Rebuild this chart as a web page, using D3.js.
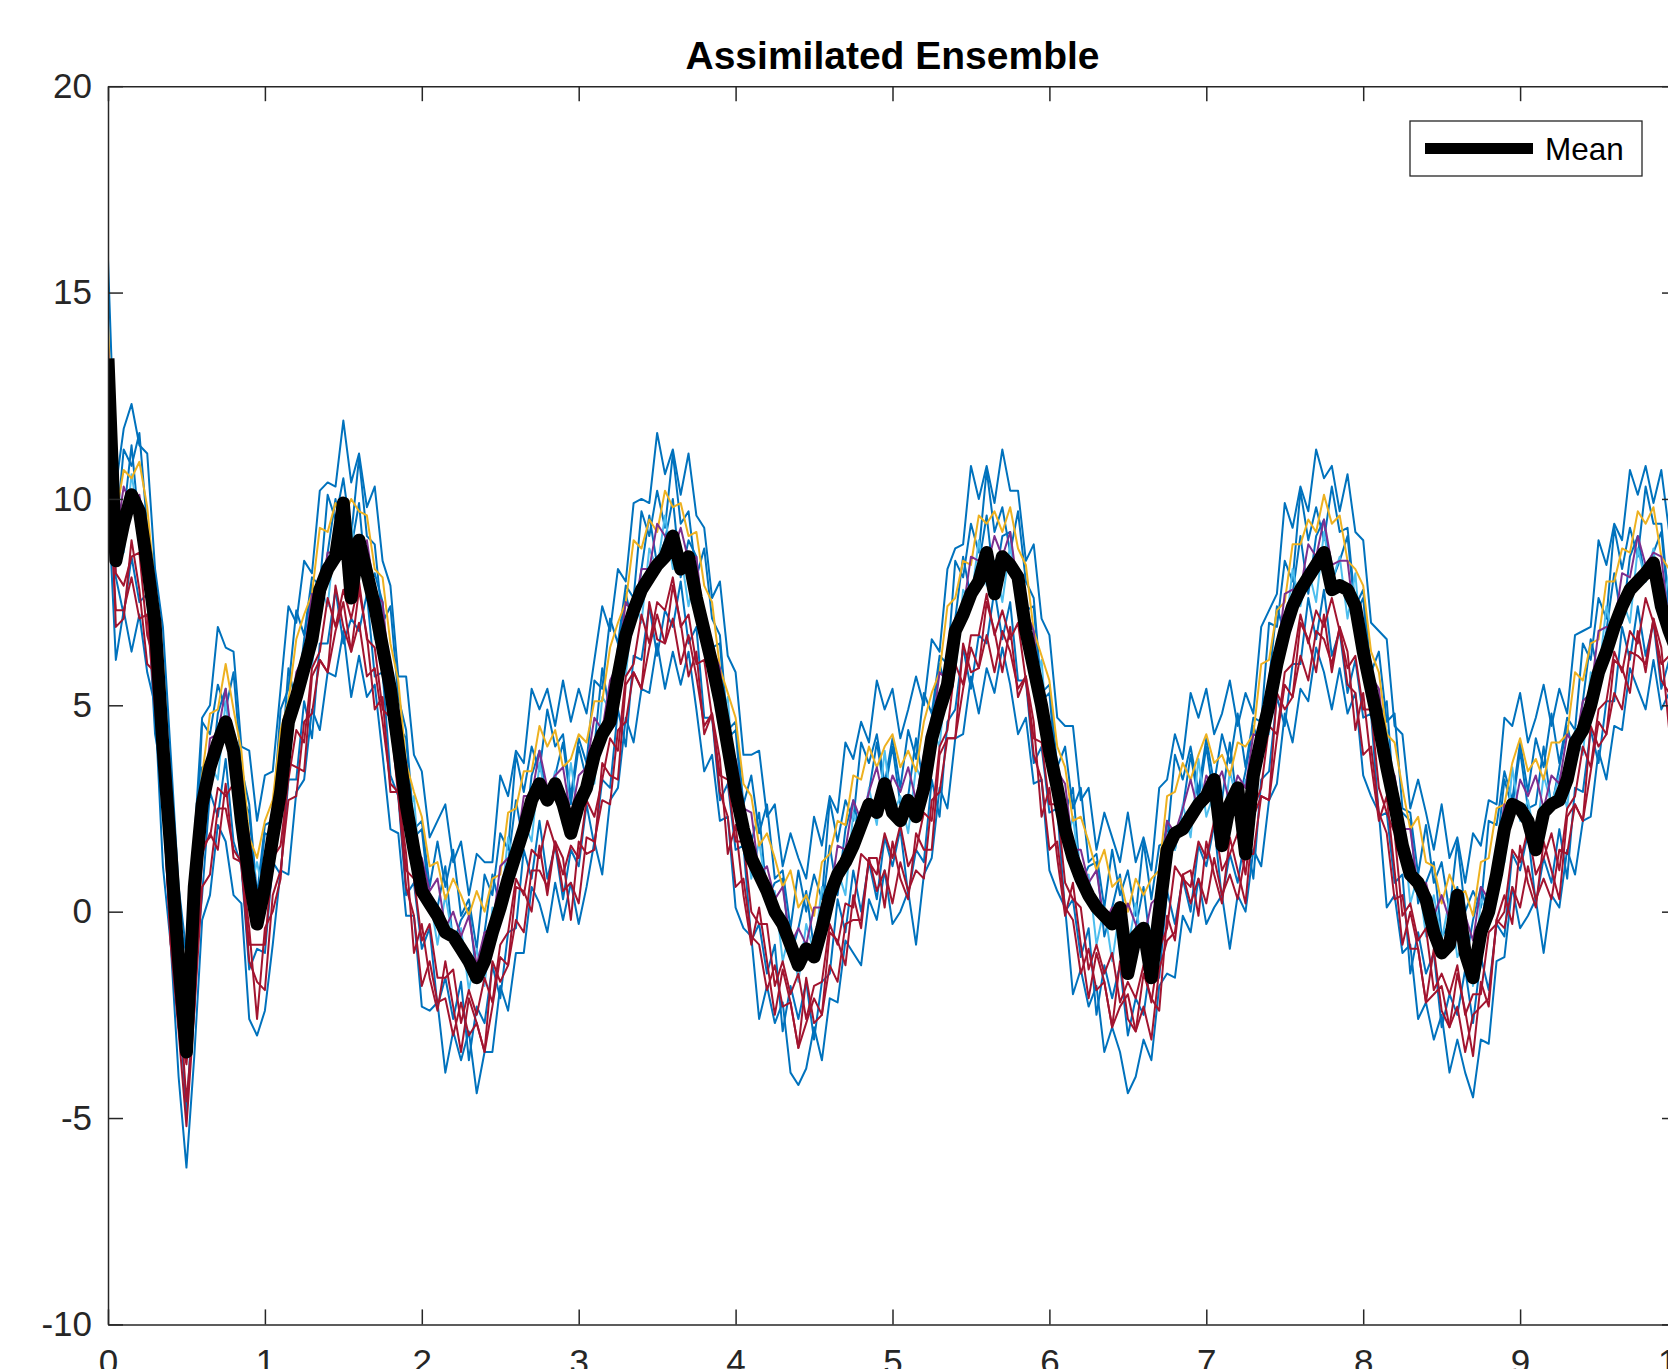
<!DOCTYPE html>
<html>
<head>
<meta charset="utf-8">
<script src="https://cdn.jsdelivr.net/npm/d3@7"></script>
<style>
  html, body { margin: 0; padding: 0; background: #fff; overflow: hidden; }
  #chart_svg { display: block; }
  text { font-family: "Liberation Sans", Arial, Helvetica, sans-serif; }
</style>
</head>
<body>
<svg id="chart_svg" width="1668" height="1369"></svg>
<script>
// samples are 0.05 time units apart, starting at t = 0
const timeStep = 0.05;

const xTickValues = [0, 1, 2, 3, 4, 5, 6, 7, 8, 9, 10];
const yTickValues = [-10, -5, 0, 5, 10, 15, 20];

// ensemble mean (thick black line)
const meanValues = [
  13.4, 8.5, 9.4, 10.1, 9.7, 8.4, 7.0, 4.0, 1.5, -1.2,
  -3.4, 0.6, 2.6, 3.5, 4.1, 4.6, 3.9, 2.2, 0.8, -0.3,
  0.6, 1.8, 2.9, 4.6, 5.2, 5.9, 6.6, 7.8, 8.3, 8.6,
  9.9, 7.6, 9.0, 8.2, 7.4, 6.4, 5.4, 4.0, 2.6, 1.5,
  0.5, 0.2, -0.1, -0.5, -0.6, -0.9, -1.2, -1.6, -1.2, -0.5,
  0.1, 0.8, 1.4, 2.0, 2.7, 3.1, 2.7, 3.1, 2.6, 1.9,
  2.6, 3.0, 3.8, 4.3, 4.6, 5.7, 6.7, 7.3, 7.8, 8.1,
  8.4, 8.6, 9.1, 8.3, 8.6, 7.6, 6.8, 6.0, 5.1, 4.0,
  2.9, 2.0, 1.3, 0.9, 0.5, 0.0, -0.3, -0.8, -1.3, -0.9,
  -1.1, -0.4, 0.4, 0.9, 1.2, 1.6, 2.1, 2.6, 2.4, 3.1,
  2.4, 2.2, 2.7, 2.3, 3.0, 4.2, 4.9, 5.5, 6.8, 7.2,
  7.7, 8.0, 8.7, 7.7, 8.6, 8.4, 8.1, 6.8, 5.9, 5.0,
  3.9, 3.0, 2.0, 1.3, 0.8, 0.4, 0.1, -0.1, -0.3, 0.1,
  -1.5, -0.6, -0.4, -1.6, 0.0, 1.5, 1.9, 2.0, 2.3, 2.6,
  2.8, 3.2, 1.6, 2.6, 3.0, 1.4, 3.3, 4.2, 5.0, 6.0,
  6.8, 7.4, 7.8, 8.1, 8.4, 8.7, 7.8, 7.9, 7.8, 7.4,
  6.3, 5.4, 4.5, 3.5, 2.6, 1.6, 0.9, 0.7, 0.3, -0.5,
  -1.0, -0.8, 0.4, -1.0, -1.6, -0.5, 0.0, 0.9, 2.0, 2.6,
  2.5, 2.2, 1.5, 2.4, 2.6, 2.7, 3.2, 4.1, 4.4, 5.0,
  5.8, 6.3, 6.9, 7.4, 7.8, 8.0, 8.2, 8.45, 7.4, 6.8,
  6.3
];

// ensemble members
const memberBlueHigh = [
  15.8, 10.3, 11.7, 12.3, 11.3, 11.1, 8.3, 6.9, 3.8, 0.6,
  -1.0, 1.7, 4.7, 5.0, 6.9, 6.4, 6.3, 4.0, 3.9, 2.2,
  3.3, 3.4, 5.4, 7.4, 7.0, 8.5, 8.2, 10.2, 10.4, 10.3,
  11.9, 10.4, 11.1, 9.8, 10.3, 8.5, 7.9, 5.7, 5.7, 3.8,
  3.4, 1.8, 2.2, 2.6, 1.2, 1.7, 0.4, 1.4, 1.2, 1.2,
  3.3, 2.8, 3.9, 3.6, 5.4, 4.9, 5.4, 4.5, 5.6, 4.6,
  5.4, 4.8, 6.1, 7.4, 6.8, 8.3, 8.0, 9.9, 10.0, 9.9,
  11.6, 10.6, 11.2, 10.1, 11.1, 9.6, 9.3, 7.6, 8.0, 6.2,
  5.8, 3.8, 3.8, 3.9, 2.3, 2.6, 1.1, 1.9, 1.3, 0.8,
  2.3, 1.6, 2.8, 2.4, 4.1, 3.7, 4.6, 4.1, 5.6, 4.9,
  5.4, 4.2, 4.9, 5.7, 5.0, 6.6, 6.3, 8.3, 8.8, 8.9,
  10.8, 10.0, 10.8, 9.9, 11.2, 10.2, 10.2, 8.5, 8.9, 7.1,
  6.7, 4.7, 4.5, 4.5, 2.7, 3.0, 1.5, 2.4, 1.8, 1.2,
  2.4, 1.2, 1.8, 1.0, 3.0, 3.2, 4.3, 3.7, 5.3, 4.7,
  5.4, 4.3, 4.8, 5.6, 4.5, 5.3, 4.8, 6.9, 7.3, 7.7,
  9.9, 9.3, 10.3, 9.7, 11.2, 10.5, 10.8, 9.7, 10.6, 9.2,
  9.0, 7.0, 6.8, 6.6, 4.5, 4.3, 2.5, 3.2, 2.4, 1.5,
  2.6, 1.3, 1.8, 0.7, 1.9, 1.6, 2.7, 2.6, 4.7, 4.5,
  5.3, 4.1, 4.7, 5.5, 4.5, 5.4, 4.8, 6.7, 6.8, 6.9,
  9.0, 8.4, 9.4, 9.0, 10.7, 10.1, 10.8, 9.9, 10.7, 9.2,
  9.2
];

const memberBlueLow = [
  10.1, 6.1, 7.3, 6.3, 7.2, 5.8, 5.0, 1.1, -0.8, -4.0,
  -6.2, -3.5, -0.2, 0.4, 2.1, 1.7, 0.4, 0.2, -2.6, -3.0,
  -2.4, -0.8, 1.0, 0.9, 2.9, 3.2, 4.9, 4.4, 5.8, 5.7,
  6.8, 5.2, 6.2, 5.2, 5.5, 3.8, 2.0, 1.9, -0.1, -0.1,
  -2.3, -2.4, -2.2, -3.9, -2.9, -3.6, -2.9, -4.4, -3.4, -3.4,
  -1.8, -2.4, -1.0, -1.0, 0.6, 0.2, -0.5, 0.7, -0.2, 0.7,
  -0.3, 0.6, 1.7, 0.9, 2.7, 3.0, 4.7, 4.1, 5.4, 5.3,
  6.5, 5.4, 6.3, 5.5, 6.3, 4.9, 3.4, 3.8, 2.2, 2.3,
  0.1, -0.4, -0.6, -2.6, -1.8, -2.7, -2.2, -3.9, -4.2, -3.8,
  -2.8, -3.6, -2.1, -2.2, -0.7, -1.0, -1.3, 0.3, -0.2, 1.0,
  -0.3, 0.0, 0.5, -0.8, 0.9, 1.3, 3.0, 2.5, 4.2, 4.3,
  5.7, 4.8, 5.9, 5.3, 6.4, 5.5, 4.3, 4.7, 3.1, 3.2,
  1.0, 0.5, 0.1, -2.0, -1.4, -2.3, -1.8, -3.4, -2.8, -3.4,
  -4.4, -4.0, -3.1, -3.6, -1.8, -1.5, -1.6, -0.1, -0.5, 0.8,
  -0.3, 0.1, 0.4, -0.9, 0.4, 0.0, 1.5, 1.1, 2.7, 3.1,
  4.8, 4.1, 5.4, 5.1, 6.4, 5.8, 4.9, 5.9, 4.8, 5.3,
  3.3, 2.8, 2.4, 0.1, 0.4, -1.0, -0.8, -2.6, -2.2, -3.1,
  -2.5, -3.9, -3.1, -3.9, -4.5, -3.1, -3.2, -1.2, -1.1, 0.6,
  -0.4, -0.1, 0.3, -1.0, 0.4, 0.1, 1.5, 0.9, 2.2, 2.3,
  3.9, 3.2, 4.5, 4.4, 5.9, 5.4, 4.9, 6.1, 4.9, 5.3,
  3.5
];

const memberBlueMidHigh = [
  12.0, 9.1, 11.2, 10.8, 11.6, 9.3, 8.2, 4.6, 3.5, -0.2,
  -1.0, 0.4, 4.6, 4.3, 5.5, 4.9, 5.8, 3.5, 2.6, 0.4,
  2.1, 2.2, 4.9, 5.4, 7.3, 6.7, 8.1, 7.9, 10.1, 9.5,
  10.5, 9.1, 11.0, 9.1, 8.9, 7.0, 7.4, 5.2, 4.4, 2.0,
  2.2, 0.6, 1.7, 0.6, 1.5, -0.1, 0.3, -0.9, 0.9, 0.4,
  1.9, 1.5, 3.8, 2.9, 4.0, 3.4, 4.9, 4.0, 4.3, 2.8,
  4.2, 3.6, 5.6, 5.4, 7.1, 6.5, 7.9, 7.6, 9.7, 9.1,
  10.2, 9.3, 11.1, 9.4, 9.7, 8.1, 8.8, 7.1, 6.7, 4.4,
  4.6, 2.6, 3.3, 1.9, 2.6, 0.8, 1.0, -0.4, 1.0, 0.0,
  0.9, 0.3, 2.7, 1.7, 2.7, 2.2, 4.1, 3.6, 4.3, 3.1,
  4.2, 3.0, 4.4, 3.7, 5.3, 4.8, 6.2, 6.0, 8.5, 8.1,
  9.4, 8.7, 10.7, 9.2, 9.8, 8.7, 9.7, 8.0, 7.6, 5.3,
  5.5, 3.5, 4.0, 2.5, 3.0, 1.2, 1.4, 0.1, 1.5, 0.4,
  1.0, -0.1, 1.7, 0.3, 1.6, 1.7, 3.8, 3.2, 4.0, 2.9,
  4.2, 3.1, 4.3, 3.6, 4.8, 3.5, 4.7, 4.6, 7.0, 6.9,
  8.5, 8.0, 10.2, 9.0, 9.8, 9.0, 10.3, 9.2, 9.3, 7.4,
  7.8, 5.8, 6.3, 4.6, 4.8, 2.5, 2.4, 0.9, 2.1, 0.7,
  1.2, 0.0, 1.7, 0.0, 0.5, 0.1, 2.2, 2.1, 3.4, 2.7,
  4.1, 2.9, 4.2, 3.5, 4.8, 3.6, 4.7, 4.4, 6.5, 6.1,
  7.6, 7.1, 9.3, 8.3, 9.3, 8.6, 10.3, 9.4, 9.4, 7.4,
  8.0
];

const memberBlueMidLow = [
  11.5, 8.1, 7.2, 8.6, 7.5, 7.7, 4.3, 3.2, -0.1, -1.9,
  -5.0, -1.6, 0.4, 2.9, 2.3, 3.7, 1.7, 1.1, -1.4, -0.9,
  -1.0, 1.2, 0.9, 3.2, 3.2, 5.1, 4.2, 6.5, 6.5, 7.8,
  6.5, 7.1, 6.8, 7.7, 5.7, 5.8, 3.3, 2.8, 0.4, 0.7,
  -0.9, -0.4, -2.3, -1.6, -2.6, -1.7, -3.6, -2.3, -2.7, -1.3,
  -2.1, -0.5, -0.4, 1.5, 0.8, 2.2, 0.8, 1.6, 0.3, 1.5,
  1.1, 2.6, 1.6, 3.2, 3.0, 4.9, 4.0, 6.2, 6.1, 7.4,
  6.2, 7.3, 6.9, 8.0, 6.5, 6.9, 4.7, 4.7, 2.7, 3.1,
  1.5, 1.6, -0.7, -0.3, -1.5, -0.8, -2.9, -1.8, -2.6, -1.7,
  -3.1, -1.7, -1.5, 0.3, -0.5, 1.0, 0.0, 1.2, 0.3, 1.8,
  1.1, 2.0, 0.4, 1.5, 1.2, 3.2, 2.3, 4.6, 4.9, 6.4,
  5.4, 6.7, 6.5, 7.8, 6.6, 7.5, 5.6, 5.6, 3.6, 4.0,
  2.4, 2.5, 0.0, 0.3, -1.1, -0.4, -2.5, -1.3, -2.1, -1.3,
  -3.0, -2.1, -2.5, -1.1, -1.6, 0.5, -0.3, 0.8, 0.0, 1.6,
  1.1, 2.1, 0.3, 1.4, 0.7, 1.9, 0.8, 3.2, 3.4, 5.2,
  4.5, 6.0, 6.0, 7.6, 6.6, 7.8, 6.2, 6.8, 5.3, 6.1,
  4.7, 4.8, 2.3, 2.4, 0.7, 0.9, -1.5, -0.5, -1.5, -1.0,
  -2.8, -2.0, -2.5, -1.4, -2.7, -1.1, -1.9, -0.3, -0.6, 1.4,
  1.0, 1.9, 0.2, 1.3, 0.7, 2.0, 0.8, 3.0, 2.9, 4.4,
  3.6, 5.1, 5.1, 6.9, 6.1, 7.4, 6.2, 7.0, 5.4, 6.1,
  4.9
];

const memberBlueCentre = [
  12.5, 8.7, 9.6, 11.3, 9.3, 9.2, 8.0, 3.9, 2.1, 0.3,
  -2.8, 0.1, 3.5, 3.0, 4.8, 5.4, 3.5, 2.8, 2.4, 0.2,
  1.9, 1.8, 3.3, 5.9, 5.0, 6.6, 7.9, 7.2, 8.7, 10.0,
  8.7, 8.8, 9.9, 7.8, 8.2, 7.5, 5.1, 4.5, 4.2, 1.8,
  2.0, 0.2, 0.1, 1.1, -0.8, -0.2, 0.1, -1.6, -0.5, 0.9,
  0.1, 1.2, 2.7, 1.6, 3.3, 3.9, 2.6, 3.3, 4.1, 2.6,
  4.0, 3.2, 4.0, 5.9, 4.8, 6.4, 7.7, 6.9, 8.3, 9.6,
  8.4, 9.0, 10.0, 8.1, 9.0, 8.6, 6.5, 6.4, 6.5, 4.2,
  4.4, 2.2, 1.7, 2.4, 0.3, 0.7, 0.8, -1.1, -0.4, 0.5,
  -0.9, 0.0, 1.6, 0.4, 2.0, 2.7, 1.8, 2.9, 4.1, 2.9,
  4.0, 2.6, 2.8, 4.2, 3.0, 4.7, 6.0, 5.3, 7.1, 8.6,
  7.6, 8.4, 9.6, 7.9, 9.1, 9.2, 7.4, 7.3, 7.4, 5.1,
  5.3, 3.1, 2.4, 3.0, 0.7, 1.1, 1.2, -0.6, 0.1, 0.9,
  -0.8, -0.4, 0.6, -1.0, 0.9, 2.2, 1.5, 2.5, 3.8, 2.7,
  4.0, 2.7, 2.7, 4.1, 2.5, 3.4, 4.5, 3.9, 5.6, 7.4,
  6.7, 7.7, 9.1, 7.7, 9.1, 9.5, 8.0, 8.5, 9.1, 7.2,
  7.6, 5.4, 4.7, 5.1, 2.5, 2.4, 2.2, 0.2, 0.7, 1.2,
  -0.6, -0.3, 0.6, -1.3, -0.2, 0.6, -0.1, 1.4, 3.2, 2.5,
  3.9, 2.5, 2.6, 4.0, 2.5, 3.5, 4.5, 3.7, 5.1, 6.6,
  5.8, 6.8, 8.2, 7.0, 8.6, 9.1, 8.0, 8.7, 9.2, 7.2,
  7.8
];

const memberLightBlue = [
  12.7, 8.9, 8.7, 10.6, 9.4, 9.0, 6.0, 4.6, 0.8, -0.5,
  -2.9, 0.7, 1.8, 3.6, 3.2, 5.1, 3.5, 2.9, 0.4, 1.2,
  0.2, 2.0, 2.4, 5.2, 5.1, 6.4, 5.9, 7.9, 7.4, 9.2,
  8.6, 9.4, 8.2, 8.4, 6.6, 7.2, 5.1, 4.6, 2.2, 2.8,
  0.3, 0.4, -0.8, 0.4, -0.7, -0.4, -1.9, -0.9, -1.8, 0.1,
  0.0, 1.8, 1.0, 2.2, 1.7, 3.6, 2.6, 3.4, 2.1, 3.6,
  2.3, 3.4, 3.1, 5.2, 4.9, 6.2, 5.7, 7.6, 7.0, 8.8,
  8.3, 9.6, 8.3, 8.7, 7.4, 8.3, 6.5, 6.5, 4.5, 5.2,
  2.7, 2.4, 0.8, 1.7, 0.4, 0.5, -1.2, -0.4, -1.7, -0.3,
  -1.0, 0.6, -0.1, 1.0, 0.4, 2.4, 1.8, 3.0, 2.1, 3.9,
  2.3, 2.8, 1.9, 3.5, 3.1, 4.5, 4.0, 6.0, 5.8, 7.8,
  7.5, 9.0, 7.9, 8.5, 7.5, 8.9, 7.4, 7.4, 5.4, 6.1,
  3.6, 3.3, 1.5, 2.3, 0.8, 0.9, -0.8, 0.1, -1.2, 0.1,
  -0.9, 0.2, -1.1, -0.4, -0.7, 1.9, 1.5, 2.6, 1.8, 3.7,
  2.3, 2.9, 1.8, 3.4, 2.6, 3.2, 2.5, 4.6, 4.3, 6.6,
  6.6, 8.3, 7.4, 8.3, 7.5, 9.2, 8.0, 8.6, 7.1, 8.2,
  5.9, 5.6, 3.8, 4.4, 2.6, 2.2, 0.2, 0.9, -0.6, 0.4,
  -0.7, 0.3, -1.1, -0.7, -1.8, 0.3, -0.1, 1.5, 1.2, 3.5,
  2.2, 2.7, 1.7, 3.3, 2.6, 3.3, 2.5, 4.4, 3.8, 5.8,
  5.7, 7.4, 6.5, 7.6, 7.0, 8.8, 8.0, 8.8, 7.2, 8.2,
  6.1
];

const memberYellow = [
  14.2, 9.6, 10.7, 10.5, 10.9, 9.8, 7.8, 6.0, 2.6, 0.2,
  -2.0, 1.3, 3.3, 4.8, 4.9, 6.0, 4.9, 3.9, 1.8, 1.3,
  2.2, 2.7, 4.4, 5.1, 6.6, 7.2, 7.7, 9.3, 9.2, 9.9,
  9.5, 10.0, 9.7, 9.6, 8.3, 8.1, 6.5, 5.6, 3.6, 2.9,
  2.3, 1.1, 1.2, 0.3, 0.8, 0.4, -0.1, 0.5, 0.0, 0.8,
  0.9, 2.4, 2.5, 3.4, 3.4, 4.5, 4.0, 4.4, 3.5, 3.7,
  4.3, 4.1, 5.1, 5.1, 6.4, 7.0, 7.5, 9.0, 8.8, 9.5,
  9.2, 10.2, 9.8, 9.9, 9.1, 9.2, 7.9, 7.5, 5.9, 5.3,
  4.7, 3.1, 2.8, 1.6, 1.9, 1.3, 0.6, 1.0, 0.1, 0.4,
  -0.1, 1.2, 1.4, 2.2, 2.1, 3.3, 3.2, 4.0, 3.5, 4.0,
  4.3, 3.5, 3.9, 3.4, 4.6, 5.3, 5.8, 7.4, 7.6, 8.5,
  8.4, 9.6, 9.4, 9.7, 9.2, 9.8, 8.8, 8.4, 6.8, 6.2,
  5.6, 4.0, 3.5, 2.2, 2.3, 1.7, 1.0, 1.5, 0.6, 0.8,
  0.0, 0.8, 0.4, 0.8, 1.0, 2.8, 2.9, 3.6, 3.2, 3.8,
  4.3, 3.6, 3.8, 3.3, 4.1, 4.0, 4.3, 6.0, 6.1, 7.3,
  7.5, 8.9, 8.9, 9.5, 9.2, 10.1, 9.4, 9.6, 8.5, 8.3,
  7.9, 6.3, 5.8, 4.3, 4.1, 3.0, 2.0, 2.3, 1.2, 1.1,
  0.2, 0.9, 0.4, 0.5, -0.1, 1.2, 1.3, 2.5, 2.6, 3.6,
  4.2, 3.4, 3.7, 3.2, 4.1, 4.1, 4.3, 5.8, 5.6, 6.5,
  6.6, 8.0, 8.0, 8.8, 8.7, 9.7, 9.4, 9.8, 8.6, 8.3,
  8.1
];

const memberPurple = [
  13.7, 9.0, 10.3, 9.8, 10.1, 8.8, 7.8, 4.2, 2.1, -1.0,
  -1.8, 0.2, 2.2, 4.2, 4.3, 5.4, 3.9, 2.8, 1.8, -0.1,
  1.2, 2.1, 4.0, 4.4, 5.8, 6.2, 7.7, 7.5, 8.7, 8.7,
  9.7, 8.9, 8.6, 9.0, 7.7, 7.5, 5.5, 4.5, 3.6, 1.5,
  1.3, 0.5, 0.8, -0.4, 0.0, -0.6, -0.1, -1.3, -0.5, -0.4,
  1.1, 1.3, 1.4, 2.8, 2.8, 3.9, 3.0, 3.3, 3.5, 2.3,
  3.3, 3.5, 4.7, 4.4, 5.6, 6.0, 7.5, 7.2, 8.3, 8.3,
  9.4, 9.1, 8.7, 9.3, 8.5, 8.6, 6.9, 6.4, 5.9, 3.9,
  3.7, 2.5, 2.4, 0.9, 1.1, 0.3, 0.6, -0.8, -0.4, -0.8,
  0.1, 0.1, 0.3, 1.6, 1.5, 2.7, 2.2, 2.9, 3.5, 2.6,
  3.3, 2.9, 3.5, 2.7, 3.8, 4.3, 5.8, 5.6, 7.1, 7.3,
  8.6, 8.5, 8.3, 9.1, 8.6, 9.2, 7.8, 7.3, 6.8, 4.8,
  4.6, 3.4, 3.1, 1.5, 1.5, 0.7, 1.0, -0.3, 0.1, -0.4,
  0.2, -0.3, -0.7, 0.2, 0.4, 2.2, 1.9, 2.5, 3.2, 2.4,
  3.3, 3.0, 3.4, 2.6, 3.3, 3.0, 4.3, 4.2, 5.6, 6.1,
  7.7, 7.8, 7.8, 8.9, 8.6, 9.5, 8.4, 8.5, 8.5, 6.9,
  6.9, 5.7, 5.4, 3.6, 3.3, 2.0, 2.0, 0.5, 0.7, -0.1,
  0.4, -0.2, -0.7, -0.1, -0.7, 0.6, 0.3, 1.4, 2.6, 2.2,
  3.2, 2.8, 3.3, 2.5, 3.3, 3.1, 4.3, 4.0, 5.1, 5.3,
  6.8, 6.9, 6.9, 8.2, 8.1, 9.1, 8.4, 8.7, 8.6, 6.9,
  7.1
];

const memberRedA = [
  11.7, 8.2, 7.9, 8.6, 8.7, 6.7, 6.0, 3.0, 1.0, -2.8,
  -3.7, -1.6, 1.6, 1.8, 3.0, 2.8, 3.1, 1.1, -0.8, -0.8,
  -0.8, 1.3, 1.6, 3.2, 4.4, 4.1, 5.9, 6.3, 7.6, 6.9,
  7.8, 7.1, 8.0, 6.6, 6.4, 4.9, 4.7, 2.8, 1.0, 0.8,
  -0.7, -0.3, -1.6, -1.6, -1.4, -2.7, -1.9, -2.5, -1.6, -2.2,
  -0.8, -0.5, 0.8, 0.4, 1.5, 1.3, 2.2, 1.6, 0.9, 1.6,
  1.3, 2.7, 2.3, 3.2, 4.2, 3.9, 5.7, 6.0, 7.2, 6.5,
  7.5, 7.3, 8.1, 6.9, 7.2, 6.0, 6.1, 4.7, 3.3, 3.2,
  1.7, 1.7, 0.0, -0.3, -0.3, -1.8, -1.2, -2.0, -1.5, -2.6,
  -1.8, -1.7, -0.3, -0.8, 0.2, 0.1, 1.4, 1.2, 0.9, 1.9,
  1.3, 2.1, 1.1, 1.5, 2.4, 2.2, 4.0, 4.4, 6.0, 5.5,
  6.7, 6.7, 7.7, 6.7, 7.3, 6.6, 7.0, 5.6, 4.2, 4.1,
  2.6, 2.6, 0.7, 0.3, 0.1, -1.4, -0.8, -1.5, -1.0, -2.2,
  -1.7, -2.1, -1.3, -2.2, -0.9, -0.4, 1.1, 0.8, 0.6, 1.7,
  1.3, 2.2, 1.0, 1.4, 1.9, 0.9, 2.5, 3.0, 4.5, 4.3,
  5.8, 6.0, 7.2, 6.5, 7.3, 6.9, 7.6, 6.8, 5.9, 6.2,
  4.9, 4.9, 3.0, 2.4, 1.9, -0.1, 0.2, -0.7, -0.4, -1.9,
  -1.5, -2.0, -1.3, -2.5, -2.0, -2.0, -0.5, -0.3, 0.0, 1.5,
  1.2, 2.0, 0.9, 1.3, 1.9, 1.0, 2.5, 2.8, 4.0, 3.5,
  4.9, 5.1, 6.3, 5.8, 6.8, 6.5, 7.6, 7.0, 6.0, 6.2,
  5.1
];

const memberRedB = [
  10.6, 7.3, 7.3, 8.1, 7.1, 7.2, 4.9, 2.8, -0.8, -2.9,
  -5.2, -2.4, 0.6, 0.9, 2.5, 2.5, 1.5, 1.2, -1.2, -1.7,
  -1.9, 0.4, 1.0, 2.7, 2.8, 4.6, 4.8, 6.1, 5.8, 6.8,
  7.5, 6.3, 7.0, 5.7, 5.9, 4.6, 3.1, 2.9, 0.6, -0.1,
  -1.8, -1.2, -2.2, -2.1, -3.0, -2.2, -3.0, -2.7, -3.4, -2.3,
  -1.1, -1.3, -0.2, -0.5, 1.0, 1.0, 0.6, 1.7, 0.5, 0.7,
  0.2, 1.8, 1.7, 2.7, 2.6, 4.4, 4.6, 5.8, 5.4, 6.4,
  7.2, 6.5, 7.1, 6.0, 6.7, 5.7, 4.5, 4.8, 2.9, 2.3,
  0.6, 0.8, -0.6, -0.8, -1.9, -1.3, -2.3, -2.2, -3.3, -2.7,
  -2.1, -2.5, -1.3, -1.7, -0.3, -0.2, -0.2, 1.3, 0.5, 1.0,
  0.2, 1.2, 0.5, 1.0, 0.8, 2.7, 2.9, 4.2, 4.2, 5.4,
  6.4, 5.9, 6.7, 5.8, 6.8, 6.3, 5.4, 5.7, 3.8, 3.2,
  1.5, 1.7, 0.1, -0.2, -1.5, -0.9, -1.9, -1.7, -2.8, -2.3,
  -2.0, -2.9, -2.3, -3.1, -1.4, -0.7, -0.5, 0.9, 0.2, 0.8,
  0.2, 1.3, 0.4, 0.9, 0.3, 1.4, 1.4, 2.8, 2.7, 4.2,
  5.5, 5.2, 6.2, 5.6, 6.8, 6.6, 6.0, 6.9, 5.5, 5.3,
  3.8, 4.0, 2.4, 1.9, 0.3, 0.4, -0.9, -0.9, -2.2, -2.0,
  -1.8, -2.8, -2.3, -3.4, -2.5, -2.3, -2.1, -0.2, -0.4, 0.6,
  0.1, 1.1, 0.3, 0.8, 0.3, 1.5, 1.4, 2.6, 2.2, 3.4,
  4.6, 4.3, 5.3, 4.9, 6.3, 6.2, 6.0, 7.1, 5.6, 5.3,
  4.0
];

const memberRedC = [
  12.1, 6.9, 7.1, 9.0, 7.8, 6.0, 5.8, 2.8, -0.8, -1.8,
  -4.6, -2.4, 1.4, 1.9, 1.5, 3.1, 1.3, 1.2, -0.4, -2.6,
  -0.4, 0.0, 0.8, 3.6, 3.5, 3.4, 5.7, 6.1, 5.8, 7.9,
  6.9, 6.3, 7.8, 6.7, 4.9, 5.2, 2.9, 2.9, 1.4, -1.0,
  -0.3, -1.6, -2.4, -1.2, -2.3, -3.4, -2.1, -2.7, -3.4, -1.2,
  -1.7, -1.3, 0.6, 0.5, 0.0, 1.6, 0.4, 1.7, 1.3, -0.2,
  1.7, 1.4, 1.5, 3.6, 3.3, 3.2, 5.5, 5.8, 5.4, 7.5,
  6.6, 6.5, 7.9, 7.0, 5.7, 6.3, 4.3, 4.8, 3.7, 1.4,
  2.1, 0.4, -0.8, 0.1, -1.2, -2.5, -1.4, -2.2, -3.3, -1.6,
  -2.7, -2.5, -0.5, -0.7, -1.3, 0.4, -0.4, 1.3, 1.3, 0.1,
  1.7, 0.8, 0.3, 1.9, 1.5, 1.5, 3.8, 4.2, 4.2, 6.5,
  5.8, 5.9, 7.5, 6.8, 5.8, 6.9, 5.2, 5.7, 4.6, 2.3,
  3.0, 1.3, -0.1, 0.7, -0.8, -2.1, -1.0, -1.7, -2.8, -1.2,
  -2.6, -2.9, -1.5, -2.1, -2.4, -0.1, -0.7, 0.9, 1.0, -0.1,
  1.7, 0.9, 0.2, 1.8, 1.0, 0.2, 2.3, 2.8, 2.7, 5.3,
  4.9, 5.2, 7.0, 6.6, 5.8, 7.2, 5.8, 6.9, 6.3, 4.4,
  5.3, 3.6, 2.2, 2.8, 1.0, -0.8, 0.0, -0.9, -2.2, -0.9,
  -2.4, -2.8, -1.5, -2.4, -3.5, -1.7, -2.3, -0.2, 0.4, -0.3,
  1.6, 0.7, 0.1, 1.7, 1.0, 0.3, 2.3, 2.6, 2.2, 4.5,
  4.0, 4.3, 6.1, 5.9, 5.3, 6.8, 5.8, 7.1, 6.4, 4.4,
  5.5
];

// drawing order = plotting order of the members
const memberSeries = [
  memberBlueHigh, memberBlueLow, memberBlueMidHigh, memberBlueMidLow, memberBlueCentre,
  memberLightBlue, memberYellow, memberPurple, memberRedA, memberRedB, memberRedC
];
const memberColors = [
  "#0072BD", "#0072BD", "#0072BD", "#0072BD", "#0072BD",
  "#4DBEEE", "#EDB120", "#7E2F8E", "#A2142F", "#A2142F", "#A2142F"
];

const titleText = "Assimilated Ensemble";
const legendLabel = "Mean";

function draw_ensemble() {
  const svg = d3.select("#chart_svg");
  svg.selectAll("*").remove();

  // axes box: the right edge falls just outside the picture
  const box = { left: 108, right: 1677, top: 86.2, bottom: 1324.4 };
  const axisColor = "#262626";
  const tickLen = 15;

  const xScale = d3.scaleLinear().domain([0, 10]).range([box.left, box.right]);
  const yScale = d3.scaleLinear().domain([-10, 20]).range([box.bottom, box.top]);

  svg.append("defs").append("clipPath").attr("id", "plot_clip")
    .append("rect")
    .attr("x", box.left).attr("y", box.top)
    .attr("width", box.right - box.left).attr("height", box.bottom - box.top);

  const line = d3.line()
    .x((d, i) => xScale(i * timeStep))
    .y(d => yScale(d));

  const g_lines = svg.append("g").attr("clip-path", "url(#plot_clip)");

  g_lines.selectAll(".member_line")
    .data(memberSeries)
    .enter()
    .append("path")
    .attr("class", "member_line")
    .attr("fill", "none")
    .attr("stroke", (d, i) => memberColors[i])
    .attr("stroke-width", 2)
    .attr("stroke-linejoin", "round")
    .attr("d", line);

  g_lines.append("path")
    .datum(meanValues)
    .attr("fill", "none")
    .attr("stroke", "#000")
    .attr("stroke-width", 13)
    .attr("stroke-linejoin", "round")
    .attr("d", line);

  // axes, ticks pointing inwards like MATLAB
  const styleAxis = g => {
    g.select(".domain").attr("stroke", axisColor).attr("stroke-width", 1.5);
    g.selectAll(".tick line").attr("stroke", axisColor).attr("stroke-width", 1.5);
    g.selectAll(".tick text")
      .attr("fill", axisColor)
      .attr("font-size", 35)
      .attr("font-family", "'Liberation Sans', Arial, Helvetica, sans-serif");
  };

  svg.append("g")
    .attr("transform", "translate(0," + box.bottom + ")")
    .call(d3.axisBottom(xScale).tickValues(xTickValues).tickFormat(d => String(d))
      .tickSizeInner(-tickLen).tickSizeOuter(0).tickPadding(25))
    .call(styleAxis);

  svg.append("g")
    .attr("transform", "translate(0," + box.top + ")")
    .call(d3.axisTop(xScale).tickValues(xTickValues).tickSizeInner(-tickLen).tickSizeOuter(0).tickFormat(""))
    .call(styleAxis);

  svg.append("g")
    .attr("transform", "translate(" + box.left + ",0)")
    .call(d3.axisLeft(yScale).tickValues(yTickValues).tickFormat(d => String(d))
      .tickSizeInner(-tickLen).tickSizeOuter(0).tickPadding(16))
    .call(styleAxis);

  svg.append("g")
    .attr("transform", "translate(" + box.right + ",0)")
    .call(d3.axisRight(yScale).tickValues(yTickValues).tickSizeInner(-tickLen).tickSizeOuter(0).tickFormat(""))
    .call(styleAxis);

  // title
  svg.append("text")
    .attr("x", (box.left + box.right) / 2)
    .attr("y", 69)
    .attr("text-anchor", "middle")
    .attr("font-size", 39)
    .attr("font-weight", "bold")
    .attr("fill", "#000")
    .text(titleText);

  // legend
  const g_legend = svg.append("g").attr("transform", "translate(1410,121)");
  g_legend.append("rect")
    .attr("width", 232).attr("height", 55)
    .attr("fill", "#fff")
    .attr("stroke", axisColor).attr("stroke-width", 1.3);
  g_legend.append("line")
    .attr("x1", 15).attr("x2", 123)
    .attr("y1", 27.5).attr("y2", 27.5)
    .attr("stroke", "#000").attr("stroke-width", 11);
  g_legend.append("text")
    .attr("x", 135).attr("y", 39)
    .attr("font-size", 31.5)
    .attr("fill", "#000")
    .text(legendLabel);
}

draw_ensemble();
</script>
</body>
</html>
